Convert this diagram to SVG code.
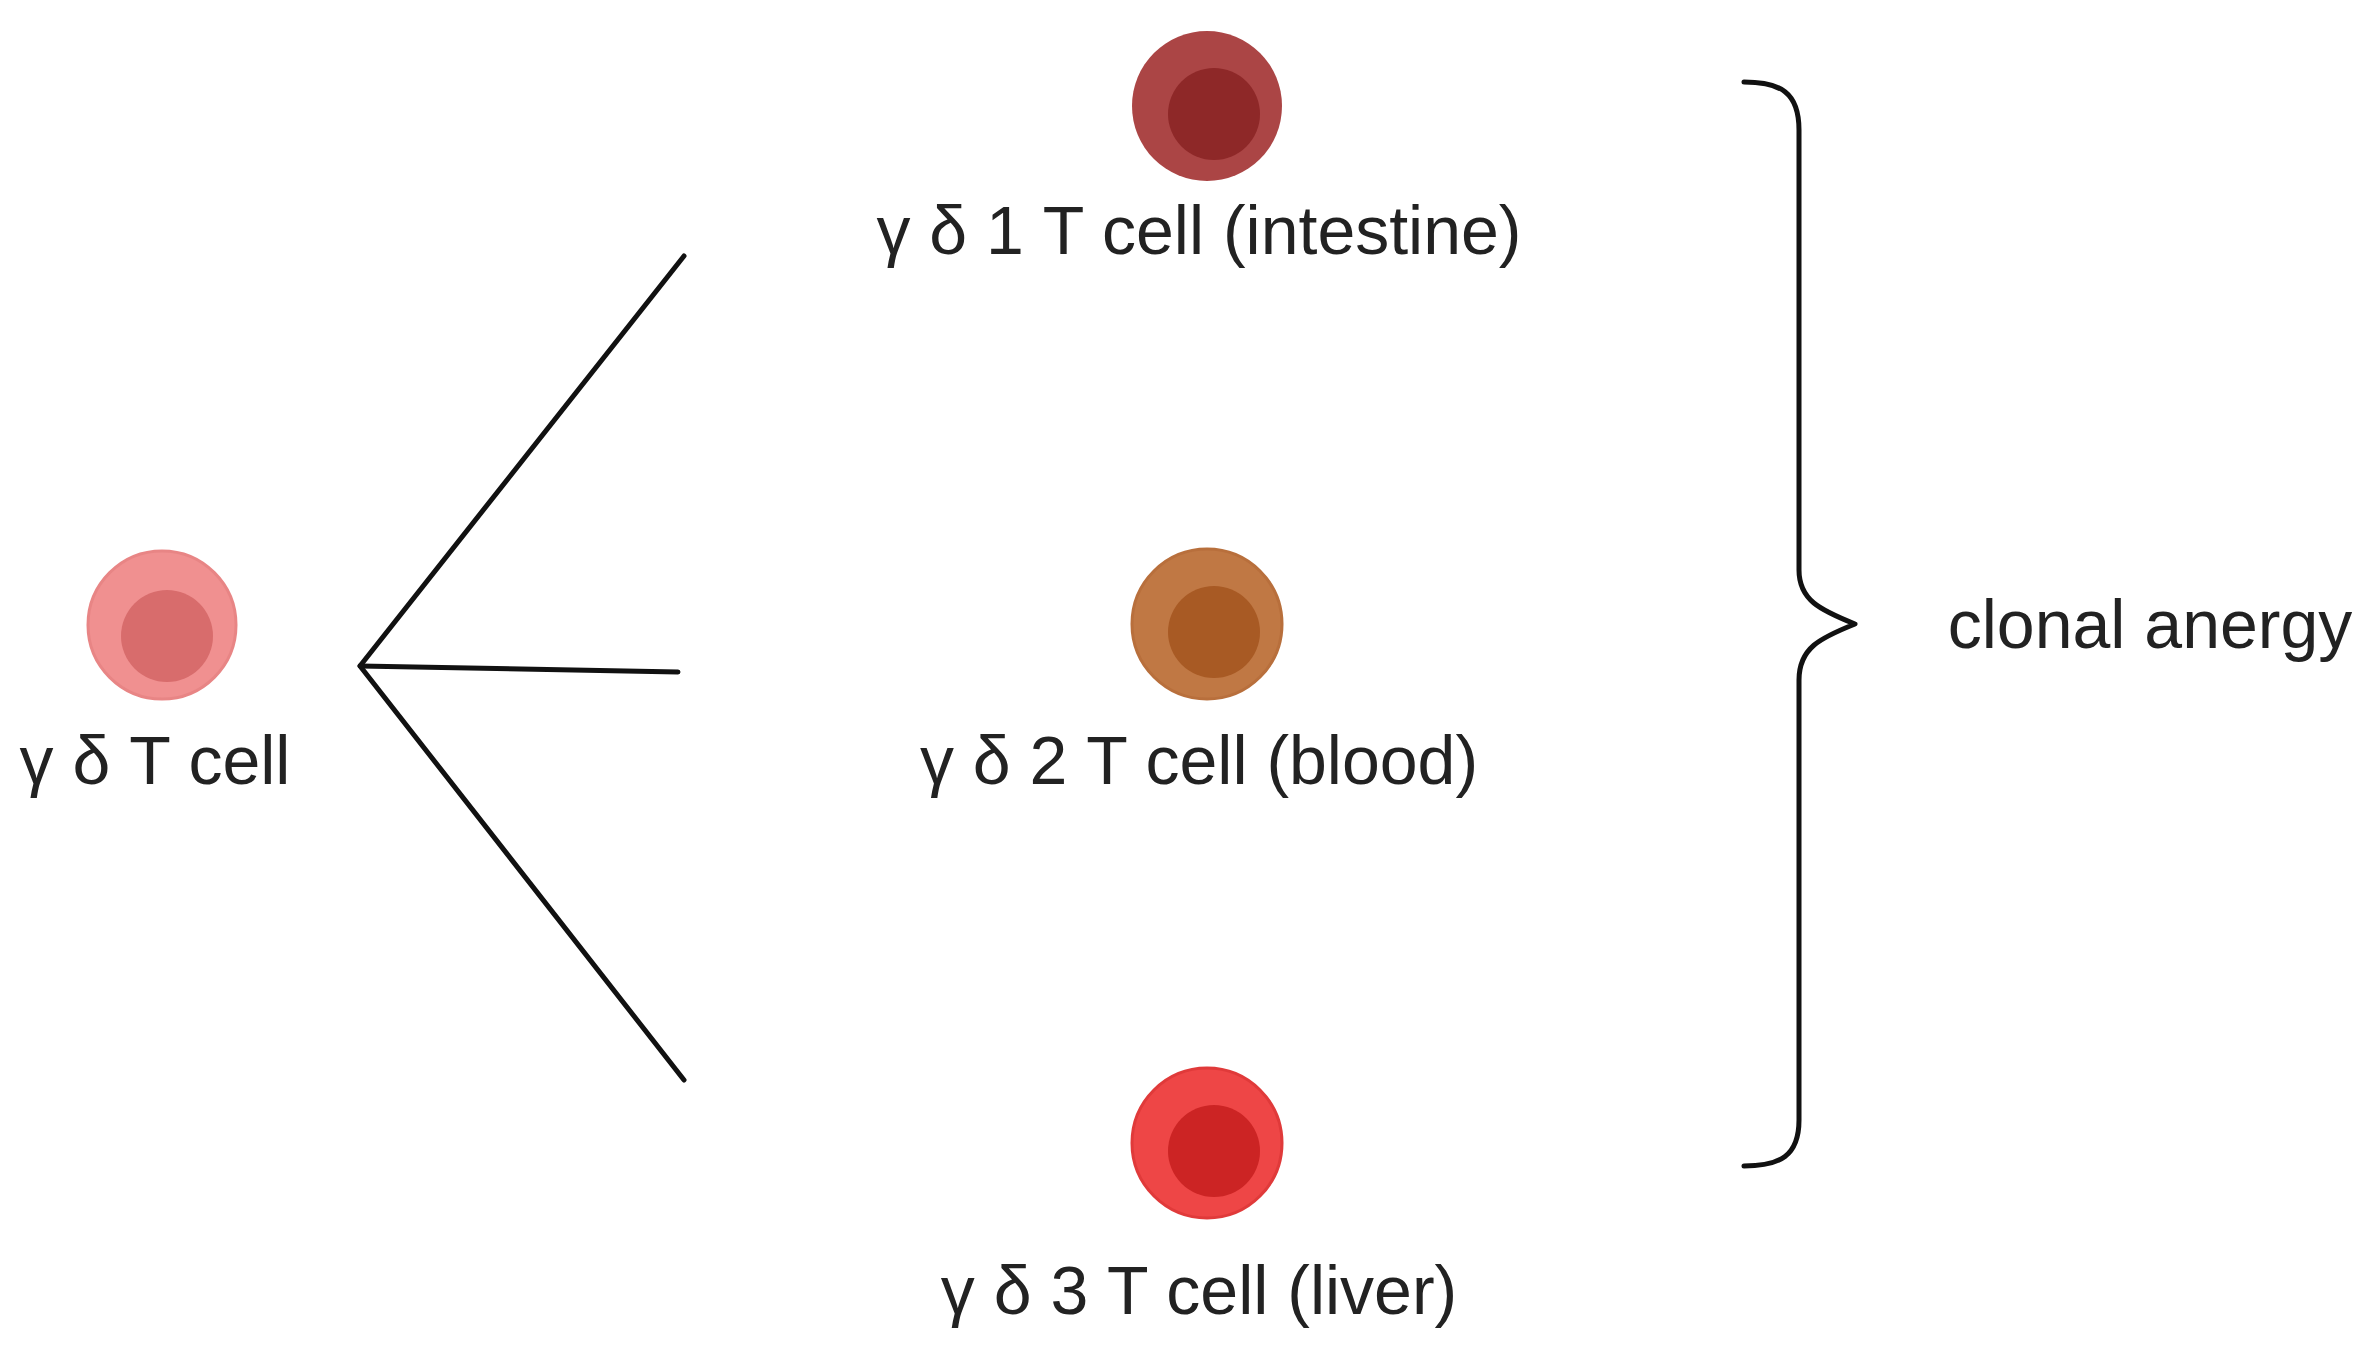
<svg xmlns="http://www.w3.org/2000/svg" width="2374" height="1358" viewBox="0 0 2374 1358">
<style>
text{font-family:"Liberation Sans",Arial,sans-serif;font-size:68px;fill:#222;text-anchor:middle}
.ln{stroke:#111;stroke-width:5;fill:none;stroke-linecap:round;stroke-linejoin:round}
</style>
<rect width="2374" height="1358" fill="#fff"/>
<g id="connectors">
<path class="ln" d="M684,256 L360,666 L684,1080"/>
<path class="ln" d="M360,666 L678,672"/>
<path class="ln" d="M1744,82 C1780,82 1799,92 1799,130 L1799,570 C1799,600 1820,610 1855,624 C1820,638 1799,648 1799,680 L1799,1120 C1799,1156 1780,1166 1744,1166"/>
</g>
<g id="gd"><circle cx="162" cy="625" r="74" fill="#f09090" stroke="#e88585" stroke-width="3"/><circle cx="167" cy="636" r="46" fill="#d86c6c"/><text x="155" y="784">γ δ T cell</text></g>
<g id="gd1"><circle cx="1207" cy="106" r="75" fill="#ab4545"/><circle cx="1214" cy="114" r="46" fill="#8e2828"/><text x="1199" y="254">γ δ 1 T cell (intestine)</text></g>
<g id="gd2"><circle cx="1207" cy="624" r="75" fill="#c07844" stroke="#b86f3c" stroke-width="3"/><circle cx="1214" cy="632" r="46" fill="#a85a24"/><text x="1199" y="784">γ δ 2 T cell (blood)</text></g>
<g id="gd3"><circle cx="1207" cy="1143" r="75" fill="#ee4646" stroke="#e03a3a" stroke-width="3"/><circle cx="1214" cy="1151" r="46" fill="#cc2424"/><text x="1199" y="1314">γ δ 3 T cell (liver)</text></g>
<g id="anergy"><text x="2150" y="648">clonal anergy</text></g>
</svg>
